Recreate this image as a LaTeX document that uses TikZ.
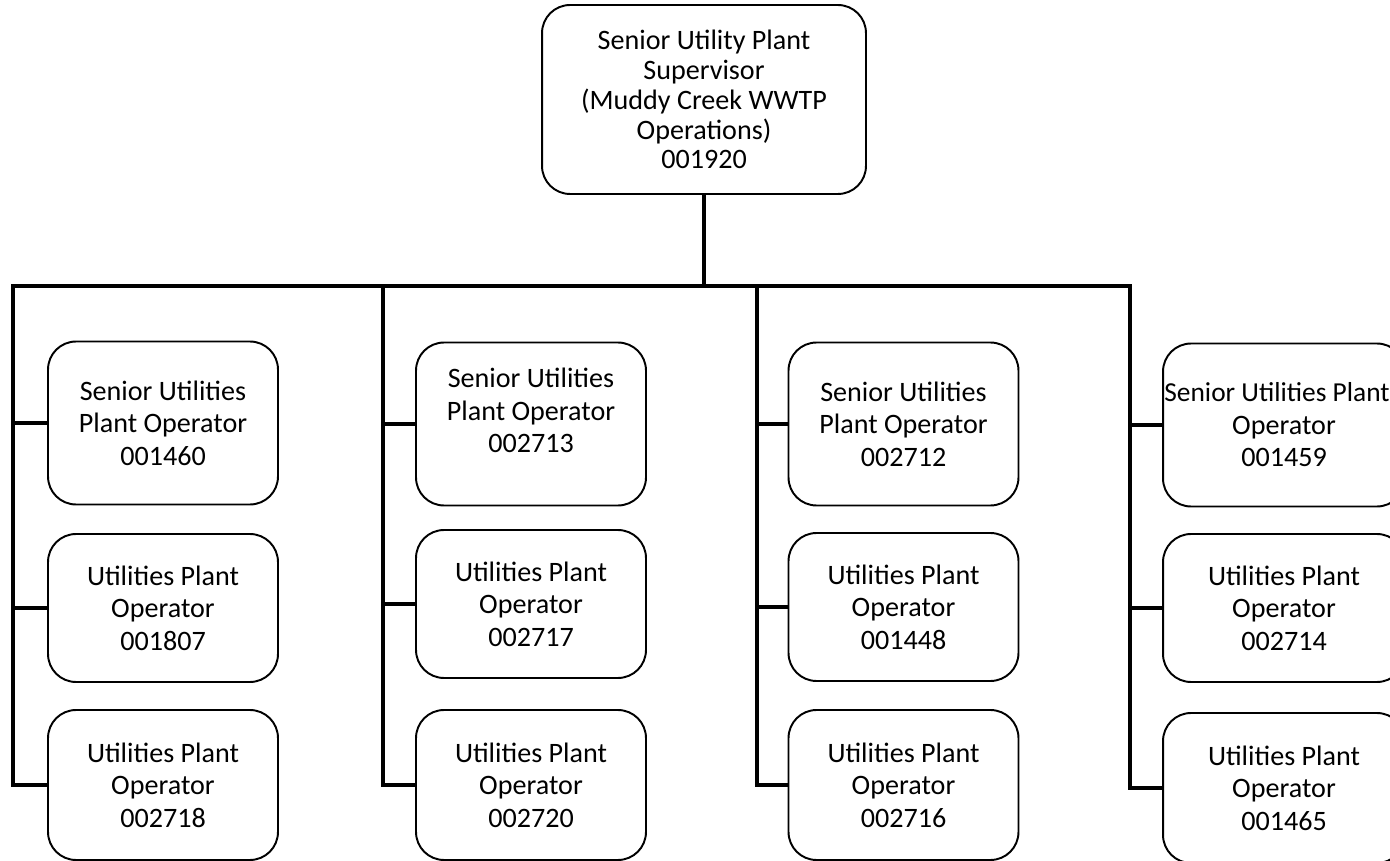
\documentclass[tikz,border=0pt]{standalone}
\usepackage{fontspec}
\setmainfont{Carlito}
\usepackage{tikz}

\begin{document}
\begin{tikzpicture}[x=0.02cm,y=-0.02cm,
  post/.style={draw,rounded corners=0.56cm,line width=1.1pt,align=center,
    inner sep=0pt,minimum width=4.6cm,font=\fontsize{16}{18.5}\selectfont},
  wide/.style={minimum width=4.84cm},
  row1/.style={minimum height=3.26cm},
  row2/.style={minimum height=2.96cm},
  row3/.style={minimum height=3.0cm},
  conn/.style={line width=2.6pt}]
\useasboundingbox (0,0) rectangle (1390,861);
\clip (0,0) rectangle (1390,861);

\node[post,minimum width=6.48cm,minimum height=3.78cm,font=\fontsize{16}{17}\selectfont] (top) at (704,99.5)
  {Senior Utility Plant\\Supervisor\\(Muddy Creek WWTP\\Operations)\\001920};

\node[post,row1] (11) at (163,423) {Senior Utilities\\Plant Operator\\001460};
\node[post,row2] (12) at (163,608) {Utilities Plant\\Operator\\001807};
\node[post,row3] (13) at (163,785) {Utilities Plant\\Operator\\002718};

\node[post,row1] (21) at (531,424) {Senior Utilities\\Plant Operator\\002713\\[-3pt]\mbox{}};
\node[post,row2] (22) at (531,604) {Utilities Plant\\Operator\\002717};
\node[post,row3] (23) at (531,785) {Utilities Plant\\Operator\\002720};

\node[post,row1] (31) at (903.5,424) {Senior Utilities\\Plant Operator\\002712};
\node[post,row2] (32) at (903.5,607) {Utilities Plant\\Operator\\001448};
\node[post,row3] (33) at (903.5,785) {Utilities Plant\\Operator\\002716};

\node[post,wide,row1] (41) at (1284,425)
  {{\fontsize{15.6}{18.5}\selectfont Senior Utilities Plant}\hspace*{0.28cm}\\Operator\\001459};
\node[post,wide,row2] (42) at (1284,608) {Utilities Plant\\Operator\\002714};
\node[post,wide,row3] (43) at (1284,788) {Utilities Plant\\Operator\\001465};

\coordinate (bus) at (704,286);
\coordinate (b1) at (13,286);
\coordinate (b2) at (383,286);
\coordinate (b3) at (757,286);
\coordinate (b4) at (1130,286);

\draw[conn] (top.south) -- (bus);
\draw[conn] (13.west) -| (b1) -- (b4) |- (43.west);
\draw[conn] (b2) |- (23.west);
\draw[conn] (b3) |- (33.west);

\draw[conn] (11.west) -- (b1 |- 11.west);
\draw[conn] (12.west) -- (b1 |- 12.west);
\draw[conn] (21.west) -- (b2 |- 21.west);
\draw[conn] (22.west) -- (b2 |- 22.west);
\draw[conn] (31.west) -- (b3 |- 31.west);
\draw[conn] (32.west) -- (b3 |- 32.west);
\draw[conn] (41.west) -- (b4 |- 41.west);
\draw[conn] (42.west) -- (b4 |- 42.west);
\end{tikzpicture}
\end{document}
